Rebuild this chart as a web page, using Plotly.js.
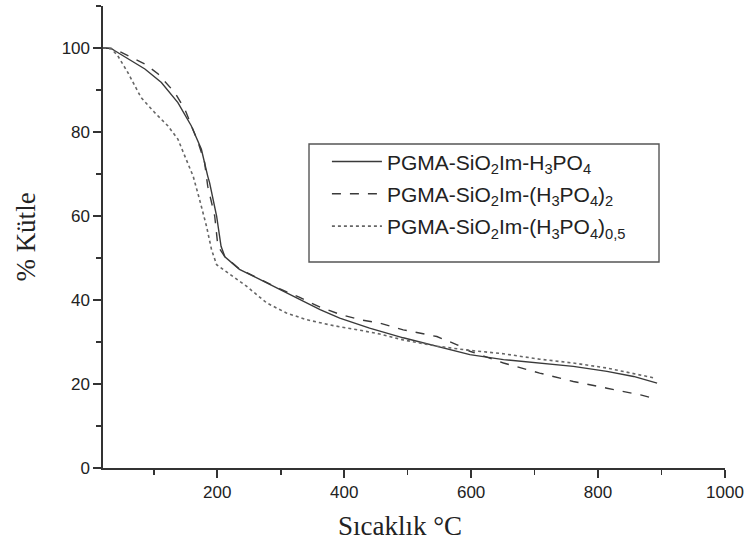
<!DOCTYPE html>
<html>
<head>
<meta charset="utf-8">
<script src="https://cdn.plot.ly/plotly-3.0.1.min.js"></script>
<style>html,body{margin:0;padding:0;background:#fff;}#chart{width:749px;height:542px;}</style>
</head>
<body>
<div id="chart"></div>
<script>
// PGMA-SiO2Im-H3PO4 (solid)
const tempA = [20, 33, 38, 59, 86, 112, 138, 159, 175, 185, 188, 199, 206, 212, 235, 267, 298, 330, 362, 393, 440, 493, 546, 598, 651, 708, 761, 814, 856, 893];
const massA = [100, 99.9, 99.4, 97.4, 95.0, 91.8, 87.0, 81.5, 75.9, 69.5, 67.9, 60.0, 52.8, 50.3, 47.3, 44.9, 42.5, 40.1, 37.7, 35.7, 33.3, 31.0, 29.0, 27.0, 25.8, 25.0, 24.2, 23.0, 21.8, 20.2];
// PGMA-SiO2Im-(H3PO4)2 (dashed)
const tempB = [20, 33, 43, 86, 107, 133, 149, 159, 170, 180, 185, 196, 201, 212, 235, 267, 298, 330, 362, 393, 425, 456, 493, 546, 577, 598, 651, 708, 761, 814, 867, 893];
const massB = [100, 99.9, 99.4, 96.2, 93.8, 89.4, 85.4, 81.5, 77.5, 72.8, 67.1, 60.0, 52.8, 50.3, 47.4, 45.0, 42.7, 40.6, 38.3, 36.6, 35.3, 34.5, 32.9, 31.3, 29.4, 27.8, 25.0, 22.6, 20.6, 19.0, 17.4, 16.4];
// PGMA-SiO2Im-(H3PO4)0,5 (dotted)
const tempC = [20, 33, 43, 59, 80, 101, 122, 138, 151, 162, 172, 183, 191, 199, 220, 246, 278, 309, 341, 383, 425, 456, 493, 546, 598, 651, 708, 761, 814, 867, 890];
const massC = [100, 99.8, 98.2, 94.2, 88.2, 84.7, 81.5, 78.3, 73.5, 69.5, 64.0, 57.6, 52.0, 48.4, 46.1, 43.3, 39.3, 36.9, 35.3, 33.9, 32.8, 31.9, 30.5, 29.0, 28.0, 27.2, 25.9, 25.0, 23.8, 22.2, 21.4];

const names = [
  'PGMA-SiO<sub>2</sub>Im-H<sub>3</sub>PO<sub>4</sub>',
  'PGMA-SiO<sub>2</sub>Im-(H<sub>3</sub>PO<sub>4</sub>)<sub>2</sub>',
  'PGMA-SiO<sub>2</sub>Im-(H<sub>3</sub>PO<sub>4</sub>)<sub>0,5</sub>'
];
const xTitle = 'Sıcaklık °C';
const yTitle = '% Kütle';

const traces = [
  {x: tempA, y: massA, name: names[0], legendgroup: 'a', mode: 'lines', line: {color: '#3a3a3a', width: 1.4, dash: 'solid'}},
  {x: tempB, y: massB, name: names[1], legendgroup: 'b', mode: 'lines', line: {color: '#3a3a3a', width: 1.4, dash: 'dash'}},
  {x: tempC, y: massC, name: names[2], legendgroup: 'c', mode: 'lines', line: {color: '#666666', width: 1.6, dash: 'dot'}}
];

const axisCommon = {
  showline: true, linecolor: '#333', linewidth: 1.6, ticks: 'outside', ticklen: 8, tickwidth: 1.6, tickcolor: '#333',
  showgrid: false, zeroline: false, tickfont: {family: 'Liberation Sans, Arial, sans-serif', size: 17, color: '#222'}
};
const titleFont = {family: 'Liberation Serif, Times New Roman, serif', size: 27, color: '#222'};
const minorCommon = {ticks: 'outside', ticklen: 5, tickwidth: 1.6, tickcolor: '#333', showgrid: false};

const layout = {
  width: 749, height: 542,
  margin: {l: 103, r: 24, t: 6, b: 74},
  paper_bgcolor: '#fff', plot_bgcolor: '#fff',
  showlegend: true,
  xaxis: Object.assign({}, axisCommon, {
    range: [20, 1000], tick0: 0, dtick: 200,
    minor: Object.assign({dtick: 100, tick0: 0}, minorCommon)
  }),
  yaxis: Object.assign({}, axisCommon, {
    range: [0, 110], tick0: 0, dtick: 20,
    minor: Object.assign({dtick: 10, tick0: 0}, minorCommon),
    title: {text: yTitle, font: titleFont, standoff: 18}
  }),
  annotations: [{
    text: xTitle, xref: 'paper', yref: 'paper', x: 0.4775, y: -0.1265,
    xanchor: 'center', yanchor: 'middle', showarrow: false, font: titleFont
  }],
  shapes: [{
    type: 'rect', xref: 'paper', yref: 'paper',
    x0: 0.3312, x1: 0.8939, y0: 0.4459, y1: 0.7013,
    line: {color: '#555', width: 1.4}, fillcolor: 'rgba(0,0,0,0)'
  }],
  legend: {
    x: 0.360, y: 0.707, xanchor: 'left', yanchor: 'top',
    borderwidth: 0, bgcolor: 'rgba(0,0,0,0)',
    font: {family: 'Liberation Sans, Arial, sans-serif', size: 21, color: '#222'},
    traceorder: 'grouped', tracegroupgap: 2, itemwidth: 50
  }
};

Plotly.newPlot('chart', traces, layout, {displayModeBar: false, staticPlot: true});
</script>
</body>
</html>
